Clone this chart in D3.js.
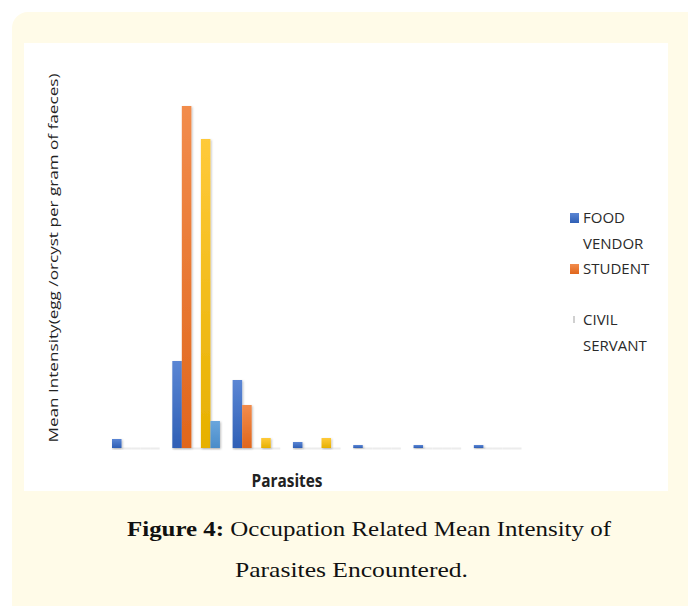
<!DOCTYPE html>
<html>
<head>
<meta charset="utf-8">
<script src="https://cdn.jsdelivr.net/npm/d3@7"></script>
<style>
  html, body { margin: 0; padding: 0; background: #fff; }
  svg { display: block; }
</style>
</head>
<body>
<script>
// parasite groups (labels not printed on the chart)
const parasites = ['P1', 'P2', 'P3', 'P4', 'P5', 'P6', 'P7'];

// series, in drawing order
const seriesNames = ['FOOD VENDOR', 'STUDENT', 'CIVIL SERVANT', 'SERIES 4', 'SERIES 5'];

// mean intensity
const foodVendor   = [9, 87, 68, 6, 3, 3, 3];
const student      = [0, 342, 43, 0, 0, 0, 0];
const civilServant = [0, 0, 0, 0, 0, 0, 0];
const series4      = [0, 309, 10, 10, 0, 0, 0];
const series5      = [0, 27, 0, 0, 0, 0, 0];

const seriesValues = [foodVendor, student, civilServant, series4, series5];

// legend only shows the first three entries
const legendNames = seriesNames.slice(0, 3);

const colors = [
  ['#5b86d4', '#2f5fb5'],
  ['#f28c4c', '#e0661c'],
  ['#b5b5b5', '#9a9a9a'],
  ['#ffca3a', '#e6b000'],
  ['#6aa6dd', '#4a8cc9']
];

const width  = 688;
const height = 606;

const svg = d3.select('body')
  .append('svg')
    .attr('width', width)
    .attr('height', height);

const defs = svg.append('defs');

// bar gradients
colors.forEach(([top, bottom], i) => {
  const g = defs.append('linearGradient')
    .attr('id', `grad${i}`)
    .attr('x1', 0).attr('y1', 0).attr('x2', 0).attr('y2', 1);
  g.append('stop').attr('offset', '0%').attr('stop-color', top);
  g.append('stop').attr('offset', '100%').attr('stop-color', bottom);
});

// soft shadow
defs.append('filter')
    .attr('id', 'shadow')
    .attr('x', '-50%').attr('y', '-10%').attr('width', '200%').attr('height', '130%')
  .append('feDropShadow')
    .attr('dx', 1).attr('dy', 1)
    .attr('stdDeviation', 1.2)
    .attr('flood-color', '#000')
    .attr('flood-opacity', 0.25);

// page background
svg.append('rect')
  .attr('x', 12).attr('y', 12)
  .attr('width', 690).attr('height', 610)
  .attr('rx', 16)
  .attr('fill', '#fffbe8');

// chart area
svg.append('rect')
  .attr('x', 24).attr('y', 43)
  .attr('width', 644).attr('height', 448)
  .attr('fill', '#fff');

// scales
const x = d3.scaleBand()
  .domain(parasites)
  .range([112, 521.5])
  .paddingInner(0.21)
  .paddingOuter(0);

const xs = d3.scaleBand()
  .domain(seriesNames)
  .range([0, x.bandwidth()]);

const y = d3.scaleLinear()
  .domain([0, 350])
  .range([448, 98]);

// flat data for bars
const bars = parasites.flatMap((p, i) =>
  seriesNames.map((s, j) => ({ p, s, j, v: seriesValues[j][i] }))
);

// faint baseline shadow under every slot
svg.append('g')
  .selectAll('rect')
  .data(bars)
  .join('rect')
    .attr('x', (d) => x(d.p) + xs(d.s))
    .attr('y', y(0) - 0.5)
    .attr('width', xs.bandwidth())
    .attr('height', 2)
    .attr('fill', '#ececec');

// bars
svg.append('g')
  .selectAll('rect')
  .data(bars.filter((d) => d.v > 0))
  .join('rect')
    .attr('x', (d) => x(d.p) + xs(d.s))
    .attr('y', (d) => y(d.v))
    .attr('width', xs.bandwidth())
    .attr('height', (d) => y(0) - y(d.v))
    .attr('fill', (d) => `url(#grad${d.j})`)
    .attr('filter', 'url(#shadow)');

// axis titles
svg.append('text')
  .attr('transform', 'translate(58,258) rotate(-90)')
  .attr('text-anchor', 'middle')
  .attr('font-family', 'Open Sans')
  .attr('font-size', 13.5)
  .attr('textLength', 369)
  .attr('lengthAdjust', 'spacingAndGlyphs')
  .attr('fill', '#222')
  .text('Mean Intensity(egg /orcyst per gram of faeces)');

svg.append('text')
  .attr('x', 287).attr('y', 487)
  .attr('text-anchor', 'middle')
  .attr('font-family', 'Open Sans')
  .attr('font-weight', 'bold')
  .attr('font-size', 17)
  .attr('textLength', 71)
  .attr('lengthAdjust', 'spacingAndGlyphs')
  .attr('fill', '#222')
  .text('Parasites');

// legend
const legendRows = [
  { name: legendNames[0], lines: ['FOOD', 'VENDOR'], y: 223 },
  { name: legendNames[1], lines: ['STUDENT'],        y: 274 },
  { name: legendNames[2], lines: ['CIVIL', 'SERVANT'], y: 325 }
];

const legend = svg.append('g');

legend.selectAll('rect')
  .data(legendRows)
  .join('rect')
    .attr('x', (d, i) => (i === 2 ? 573 : 570))
    .attr('y', (d, i) => (i === 2 ? d.y - 9 : d.y - 10))
    .attr('width', (d, i) => (i === 2 ? 2 : 9))
    .attr('height', (d, i) => (i === 2 ? 7 : 10))
    .attr('fill', (d, i) => (i === 2 ? '#d0d0d0' : `url(#grad${i})`));

legend.selectAll('text')
  .data(legendRows)
  .join('text')
    .attr('x', 583)
    .attr('y', (d) => d.y)
    .attr('font-family', 'Open Sans')
    .attr('font-size', 15)
    .attr('fill', '#2a2a2a')
  .selectAll('tspan')
  .data((d) => d.lines)
  .join('tspan')
    .attr('x', 583)
    .attr('dy', (d, i) => (i === 0 ? 0 : 26))
    .text((d) => d);

// caption
const cap1 = svg.append('text')
  .attr('x', 127).attr('y', 536)
  .attr('font-family', 'Liberation Serif')
  .attr('font-size', 22)
  .attr('textLength', 484)
  .attr('lengthAdjust', 'spacingAndGlyphs')
  .attr('fill', '#111');
cap1.append('tspan').attr('font-weight', 'bold').text('Figure 4:');
cap1.append('tspan').text(' Occupation Related Mean Intensity of');

svg.append('text')
  .attr('x', 235).attr('y', 577)
  .attr('font-family', 'Liberation Serif')
  .attr('font-size', 22)
  .attr('textLength', 233)
  .attr('lengthAdjust', 'spacingAndGlyphs')
  .attr('fill', '#111')
  .text('Parasites Encountered.');
</script>
</body>
</html>
